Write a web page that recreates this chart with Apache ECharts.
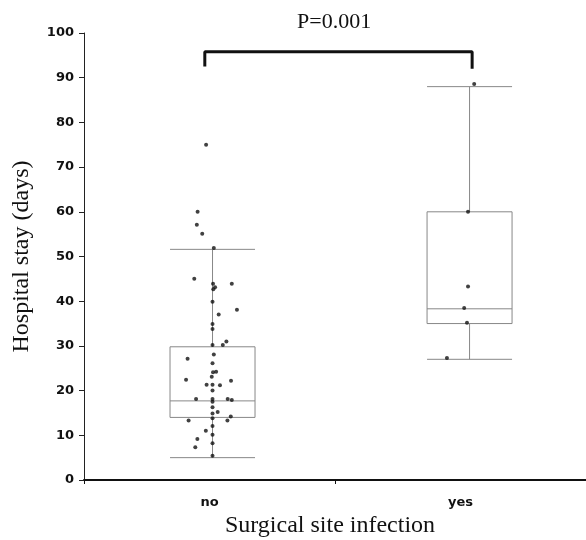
<!DOCTYPE html>
<html lang="en">
<head>
<meta charset="UTF-8">
<title>Hospital stay</title>
<style>
  html,body{margin:0;padding:0;background:#fff;}
  #main{width:586px;height:540px;}
</style>
<script src="https://cdn.jsdelivr.net/npm/echarts@6/dist/echarts.min.js"></script>
</head>
<body>
<div id="main"></div>
<script>
// categories
var groups = ['no', 'yes'];
// [whisker low, Q1, median, Q3, whisker high]
var boxNo = [5, 14, 17.7, 29.8, 51.6];
var boxYes = [27, 35, 38.3, 60, 88];

// individual patients (value + horizontal jitter)
var noValues = [75, 60, 57.1, 55.1, 51.9, 45, 43.9, 43.9, 43.1, 42.7, 39.9, 38.1, 37, 34.9, 33.8,
    31, 30.2, 30.2, 28.1, 27.1, 26.1, 24.2, 24.1, 23.1, 22.4, 22.2, 21.3, 21.3, 21.2, 20,
    18.1, 18.1, 17.5, 18.1, 17.9, 16.3, 15.2, 14.9, 13.3, 13.8, 14.2, 13.3, 12.1, 11, 10.1,
    9.2, 8.2, 7.3, 5.4];
var noJitter = [-0.025, -0.058, -0.061, -0.04, 0.005, -0.071, 0.002, 0.075, 0.01, 0.003, 0, 0.095, 0.024, 0, 0,
    0.054, 0.04, 0, 0.005, -0.097, 0, 0.014, 0.002, -0.003, -0.103, 0.072, -0.023, 0, 0.029, 0,
    -0.064, 0, 0, 0.059, 0.075, 0, 0.02, 0, -0.093, 0, 0.071, 0.058, 0, -0.026, 0,
    -0.059, 0, -0.067, 0];
var yesValues = [88.6, 60, 43.3, 38.5, 35.2, 27.3];
var yesJitter = [0.018, -0.006, -0.006, -0.021, -0.01, -0.088];

// significance bracket
var bracketX = [-0.03, -0.03, 1.01, 1.01];
var bracketY = [92.5, 95.8, 95.8, 92];
var pLabel = 'P=0.001';

var myChart = echarts.init(document.getElementById('main'));

var pts = [];
noValues.forEach(function (v, i) { pts.push([0 + noJitter[i], v]); });
yesValues.forEach(function (v, i) { pts.push([1 + yesJitter[i], v]); });
var bracket = bracketX.map(function (x, i) { return [x, bracketY[i]]; });
var boxes = [[0].concat(boxNo), [1].concat(boxYes)];

var serif = 'Liberation Serif';
var sans = 'DejaVu Sans';

var option = {
    animation: false,
    backgroundColor: '#fff',
    title: {
        text: pLabel,
        left: 297,
        top: 11,
        padding: 0,
        textStyle: { fontFamily: serif, fontSize: 22, fontWeight: 'normal', color: '#111' }
    },
    grid: { left: 84, right: 0, top: 33, bottom: 60, outerBoundsMode: 'none' },
    xAxis: [{
        type: 'category',
        data: groups,
        axisLine: { lineStyle: { color: '#111', width: 2 } },
        axisTick: { show: true, length: 4, lineStyle: { color: '#111' } },
        axisLabel: { color: '#111', fontFamily: sans, fontWeight: 'bold', fontSize: 13, margin: 16 },
        name: 'Surgical site infection',
        nameLocation: 'middle',
        nameGap: 33,
        nameTextStyle: { fontFamily: serif, fontSize: 24, color: '#111', padding: [0, 10, 0, 0] }
    }, {
        // hidden value axis used to place boxes, points and bracket
        type: 'value',
        min: -0.5,
        max: 1.453,
        show: false
    }],
    yAxis: {
        type: 'value',
        min: 0,
        max: 100,
        interval: 10,
        splitLine: { show: false },
        axisLine: { show: true, onZero: false, lineStyle: { color: '#222', width: 1 } },
        axisTick: { show: true, length: 5, lineStyle: { color: '#222' } },
        axisLabel: { color: '#111', fontFamily: sans, fontWeight: 'bold', fontSize: 13, margin: 10 },
        name: 'Hospital stay (days)',
        nameLocation: 'middle',
        nameGap: 50,
        nameTextStyle: { fontFamily: serif, fontSize: 24, color: '#111' }
    },
    series: [{
        type: 'boxplot',
        xAxisIndex: 1,
        boxWidth: [85, 85],
        itemStyle: { color: '#fff', borderColor: '#888', borderWidth: 1 },
        data: boxes,
        z: 2
    }, {
        type: 'scatter',
        xAxisIndex: 1,
        symbol: 'circle',
        symbolSize: 4,
        itemStyle: { color: '#111' },
        data: pts,
        z: 5
    }, {
        type: 'line',
        xAxisIndex: 1,
        showSymbol: false,
        symbol: 'none',
        lineStyle: { color: '#111', width: 3 },
        data: bracket,
        z: 6
    }]
};
myChart.setOption(option);
</script>
</body>
</html>
